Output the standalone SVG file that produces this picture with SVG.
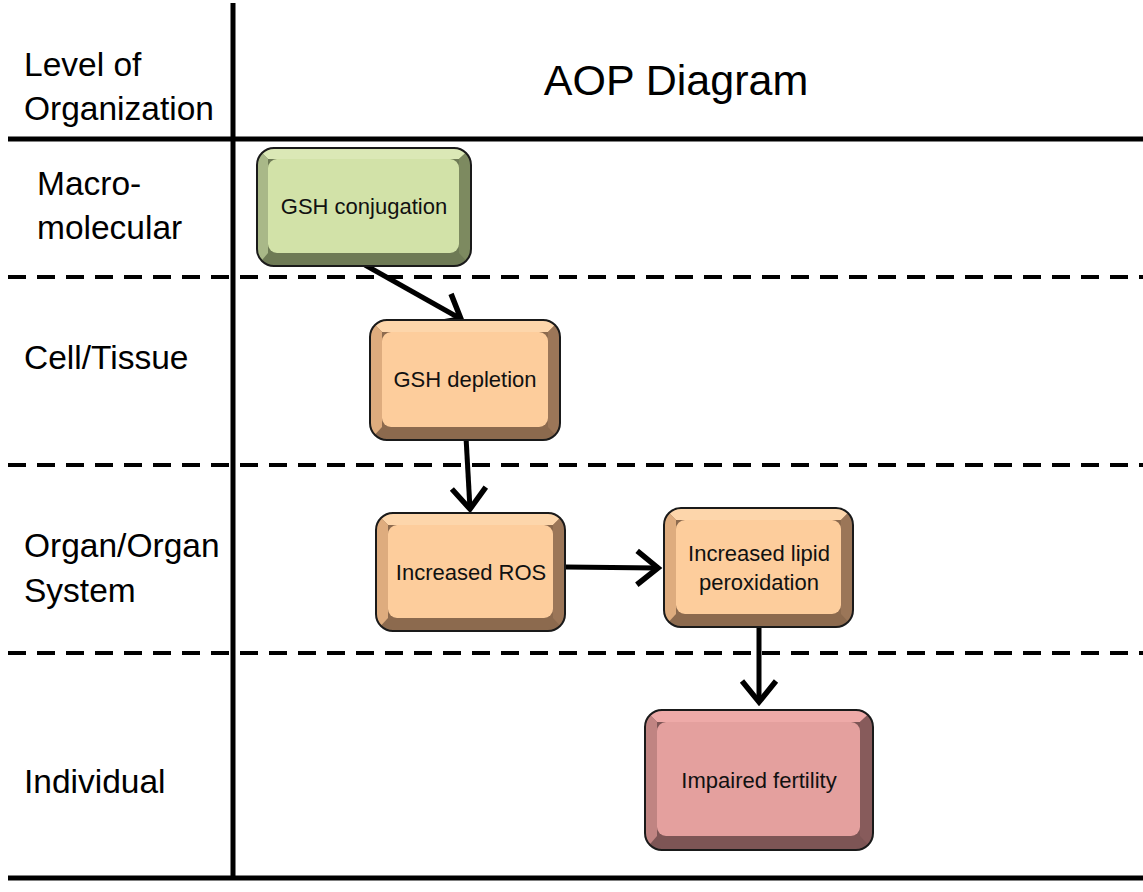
<svg xmlns="http://www.w3.org/2000/svg" width="1143" height="892" viewBox="0 0 1143 892">
<style>
.lbl{font-family:"Liberation Sans",Arial,sans-serif;font-size:33.5px;fill:#000}
.title{font-family:"Liberation Sans",Arial,sans-serif;font-size:43px;fill:#000}
.nt{font-family:"Liberation Sans",Arial,sans-serif;font-size:22px;fill:#111;text-anchor:middle}
.solid{stroke:#000;stroke-width:5;fill:none}
.dash{stroke:#000;stroke-width:4;stroke-dasharray:18 11;fill:none}
.conn{stroke:#000;stroke-width:5;fill:none;marker-end:url(#arr)}
.edge{fill:none;stroke:#1a1a1a;stroke-width:2}
</style>
<defs>
<marker id="arr" markerUnits="userSpaceOnUse" viewBox="-26 -22 32 44" refX="0" refY="0" markerWidth="32" markerHeight="44" orient="auto">
<path d="M-21,-17 L0,0 L-21,17" fill="none" stroke="#000" stroke-width="5.5" stroke-linejoin="miter"/>
</marker>
<clipPath id="c1"><rect x="257" y="148" width="214" height="118" rx="17"/></clipPath>
<clipPath id="c2"><rect x="370" y="320" width="190" height="120" rx="17"/></clipPath>
<clipPath id="c3"><rect x="376" y="513" width="189" height="118" rx="17"/></clipPath>
<clipPath id="c4"><rect x="664" y="508" width="189" height="119" rx="17"/></clipPath>
<clipPath id="c5"><rect x="645" y="710" width="228" height="140" rx="17"/></clipPath>
</defs>
<rect width="1143" height="892" fill="#fff"/>

<g id="grid">
<line class="solid" x1="233" y1="3" x2="233" y2="880"/>
<line class="solid" x1="8" y1="139" x2="1143" y2="139"/>
<line class="solid" x1="8" y1="878" x2="1143" y2="878" stroke-width="6"/>
<line class="dash" x1="8" y1="277" x2="1143" y2="277"/>
<line class="dash" x1="8" y1="465" x2="1143" y2="465"/>
<line class="dash" x1="8" y1="653" x2="1143" y2="653"/>
</g>

<g id="labels">
<text class="lbl" x="24" y="76">Level of</text>
<text class="lbl" x="24" y="120">Organization</text>
<text class="title" x="676" y="95" text-anchor="middle">AOP Diagram</text>
<text class="lbl" x="37" y="195">Macro-</text>
<text class="lbl" x="37" y="239">molecular</text>
<text class="lbl" x="24" y="369">Cell/Tissue</text>
<text class="lbl" x="24" y="557">Organ/Organ</text>
<text class="lbl" x="24" y="602">System</text>
<text class="lbl" x="24" y="793">Individual</text>
</g>

<g id="connectors">
<line class="conn" x1="365" y1="265" x2="461" y2="319"/>
<line class="conn" x1="466" y1="437" x2="470" y2="509"/>
<line class="conn" x1="565" y1="567" x2="658" y2="568"/>
<line class="conn" x1="759" y1="622" x2="759" y2="702"/>
</g>

<g id="n1">
<g clip-path="url(#c1)">
<rect x="257" y="148" width="214" height="118" fill="#6e7a55"/>
<polygon points="257,148 471,148 459,159 268,159" fill="#dbe8b6"/>
<polygon points="257,148 268,159 268,253 257,266" fill="#a9b888"/>
<polygon points="471,148 471,266 459,253 459,159" fill="#7d8a60"/>
</g>
<rect x="268" y="159" width="191" height="94" rx="9" fill="#d2e2a8"/>
<rect class="edge" x="257" y="148" width="214" height="118" rx="17"/>
<text class="nt" x="364" y="214">GSH conjugation</text>
</g>

<g id="n2">
<g clip-path="url(#c2)">
<rect x="370" y="320" width="190" height="120" fill="#8c6a4e"/>
<polygon points="370,320 560,320 548,332 382,332" fill="#fdd6ab"/>
<polygon points="370,320 382,332 382,427 370,440" fill="#deac7e"/>
<polygon points="560,320 560,440 548,427 548,332" fill="#9b7658"/>
</g>
<rect x="382" y="332" width="166" height="95" rx="9" fill="#fdcd9c"/>
<rect class="edge" x="370" y="320" width="190" height="120" rx="17"/>
<text class="nt" x="465" y="387">GSH depletion</text>
</g>

<g id="n3">
<g clip-path="url(#c3)">
<rect x="376" y="513" width="189" height="118" fill="#8c6a4e"/>
<polygon points="376,513 565,513 553,525 388,525" fill="#fdd6ab"/>
<polygon points="376,513 388,525 388,618 376,631" fill="#deac7e"/>
<polygon points="565,513 565,631 553,618 553,525" fill="#9b7658"/>
</g>
<rect x="388" y="525" width="165" height="93" rx="9" fill="#fdcd9c"/>
<rect class="edge" x="376" y="513" width="189" height="118" rx="17"/>
<text class="nt" x="471" y="580">Increased ROS</text>
</g>

<g id="n4">
<g clip-path="url(#c4)">
<rect x="664" y="508" width="189" height="119" fill="#8c6a4e"/>
<polygon points="664,508 853,508 841,520 676,520" fill="#fdd6ab"/>
<polygon points="664,508 676,520 676,614 664,627" fill="#deac7e"/>
<polygon points="853,508 853,627 841,614 841,520" fill="#9b7658"/>
</g>
<rect x="676" y="520" width="165" height="94" rx="9" fill="#fdcd9c"/>
<rect class="edge" x="664" y="508" width="189" height="119" rx="17"/>
<text class="nt" x="759" y="561">Increased lipid</text>
<text class="nt" x="759" y="590">peroxidation</text>
</g>

<g id="n5">
<g clip-path="url(#c5)">
<rect x="645" y="710" width="228" height="140" fill="#7d5555"/>
<polygon points="645,710 873,710 860,722 657,722" fill="#eeaaa8"/>
<polygon points="645,710 657,722 657,836 645,850" fill="#c08482"/>
<polygon points="873,710 873,850 860,836 860,722" fill="#875b5b"/>
</g>
<rect x="657" y="722" width="203" height="114" rx="9" fill="#e4a09e"/>
<rect class="edge" x="645" y="710" width="228" height="140" rx="17"/>
<text class="nt" x="759" y="788">Impaired fertility</text>
</g>
</svg>
